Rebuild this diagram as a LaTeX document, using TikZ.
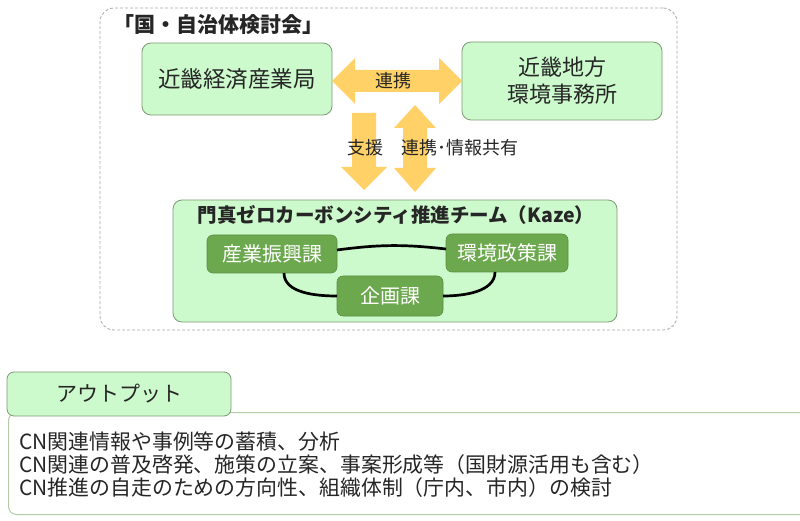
\documentclass[tikz,border=0pt]{standalone}
\usepackage{fontspec}
\setmainfont{Noto Sans CJK JP}
\definecolor{lg}{HTML}{CCFACC}
\definecolor{bordc}{HTML}{7E9A74}
\definecolor{dg}{HTML}{6CA84E}
\definecolor{arr}{HTML}{FFD166}
\definecolor{txt}{HTML}{262626}
\definecolor{dashc}{HTML}{A8A8A8}
\definecolor{outc}{HTML}{B4CBA8}
\begin{document}
\begin{tikzpicture}[x=1pt,y=1pt,
  box/.style={draw=bordc, fill=lg, rounded corners=9pt, line width=0.8pt, text=txt, align=center, inner sep=0pt, outer sep=0pt},
  dbox/.style={fill=dg, draw=dg!85!black, line width=0.6pt, rounded corners=6pt, text=white, inner sep=0pt, outer sep=0pt, font=\fontsize{20}{24}\selectfont},
  arrowc/.style={fill=arr},
  link/.style={line width=2.7pt, black},
  lbl/.style={text=txt, inner sep=0pt, font=\fontsize{18}{22}\selectfont}]
\useasboundingbox (0,0) rectangle (800,520);
\fill[white] (0,0) rectangle (800,520);

% outer dashed group
\node[draw=dashc, dashed, dash pattern=on 3pt off 2pt, line width=0.8pt, rounded corners=14pt,
      minimum width=577pt, minimum height=322pt, inner sep=0pt] (outer) at (388.5,351) {};
\node[anchor=west, text=txt, inner sep=0pt, font=\bfseries\fontsize{21}{25}\selectfont] (title) at (113,495) {「国・自治体検討会」};

% top boxes
\node[box, minimum width=190pt, minimum height=72pt, font=\fontsize{22.5}{26}\selectfont] (kinki) at (237,441) {近畿経済産業局};
\node[box, minimum width=200pt, minimum height=78pt, font=\fontsize{22}{27}\selectfont] (env) at (562,439) {近畿地方\\環境事務所};

% horizontal double arrow
\fill[arrowc] (kinki.east |- 0,439) -- ++(23,23) -- ++(0,-12) -- (439,450) -- (439,462) -- (env.west |- 0,439)
  -- (439,416) -- (439,428) -- (355,428) -- (355,416) -- cycle;
\node[lbl] (renkei) at (393,439) {連携};

% Kaze box
\node[box, minimum width=444pt, minimum height=122pt] (kaze) at (395,259) {};
\node[text=txt, inner sep=0pt, font=\bfseries\fontsize{19.5}{23}\selectfont] (kazet) at (396,305) {門真ゼロカーボンシティ推進チーム（Kaze）};

% vertical arrows
\fill[arrowc] (352,407) -- (376,407) -- (376,353) -- (387,353) -- (364,330) -- (341,353) -- (352,353) -- cycle;
\fill[arrowc] (415,415) -- (436,392) -- (427,392) -- (427,352) -- (436,352) -- (415,328)
  -- (394,352) -- (403,352) -- (403,392) -- (394,392) -- cycle;
\node[lbl] (shien) at (365,372) {支援};
\node[lbl, anchor=west] (kyoyu) at (401,372) {連携･情報共有};

% departments
\node[dbox, minimum width=130pt, minimum height=38pt] (sangyo) at (272,266) {産業振興課};
\node[dbox, minimum width=122pt, minimum height=38pt] (kankyo) at (507,267) {環境政策課};
\node[dbox, minimum width=106pt, minimum height=40pt] (kikaku) at (390,224) {企画課};

\draw[link] ([yshift=4pt]sangyo.east) to[bend left=7] ([yshift=4pt]kankyo.west);
\draw[link] ([xshift=12pt]sangyo.south) to[out=-90, in=180, looseness=0.9] (kikaku.west);
\draw[link] (kikaku.east) to[out=0, in=-90, looseness=0.9] ([xshift=-12pt]kankyo.south);

% output
\node[draw=outc, fill=white, line width=1pt, rounded corners=8pt, minimum width=820pt, minimum height=102pt,
      inner sep=0pt, anchor=south west] (outbody) at (8,5) {};
\node[box, minimum width=224pt, minimum height=44pt, rounded corners=7pt, font=\fontsize{21}{24}\selectfont] (outtab) at (119,126) {アウトプット};
\node[anchor=west, text=txt, inner sep=0pt, align=left, font=\fontsize{20.9}{23}\selectfont] (outtext) at (19,55)
  {CN関連情報や事例等の蓄積、分析\\CN関連の普及啓発、施策の立案、事案形成等（国財源活用も含む）\\CN推進の自走のための方向性、組織体制（庁内、市内）の検討};
\end{tikzpicture}
\end{document}
